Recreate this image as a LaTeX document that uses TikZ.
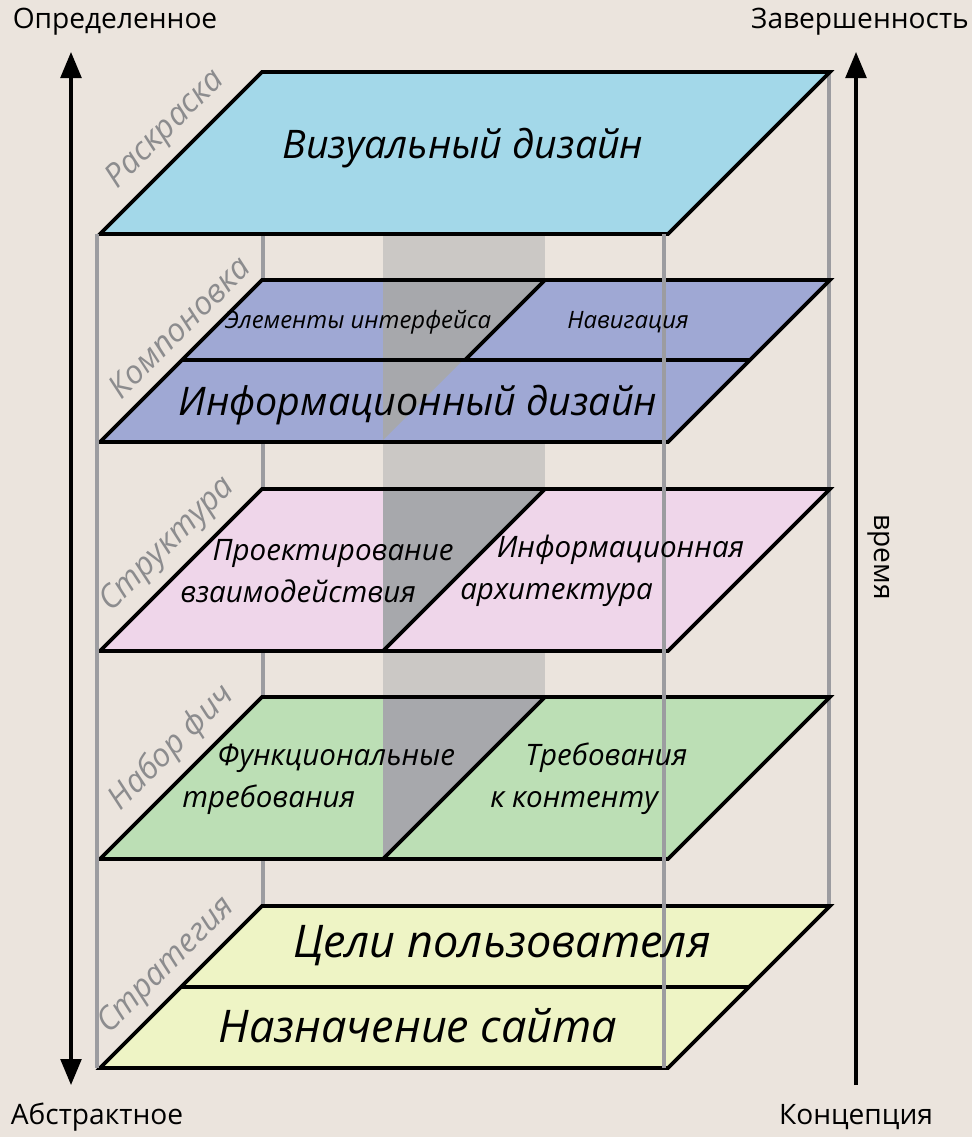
\documentclass[tikz,border=0pt]{standalone}
\usepackage{fontspec}
\setmainfont{Open Sans}
\usetikzlibrary{arrows.meta}
\definecolor{paper}{HTML}{EBE4DD}
\definecolor{skyblue}{HTML}{A3D8E9}
\definecolor{lavender}{HTML}{9FA8D4}
\definecolor{rosepink}{HTML}{EFD6EA}
\definecolor{mintgreen}{HTML}{BCDFB5}
\definecolor{palelime}{HTML}{EEF4C5}
\definecolor{shadegray}{HTML}{A7A8AC}
\definecolor{bandgray}{HTML}{CBC8C5}
\definecolor{polegray}{HTML}{9C9CA0}
\definecolor{sidegray}{HTML}{8C8C8E}

\begin{document}
\begin{tikzpicture}[
  x=0.025cm, y=-0.025cm,
  layer/.style={draw=black, line width=2.6pt, fill=#1},
  outline/.style={draw=black, line width=2.6pt},
  divider/.style={draw=black, line width=2.6pt},
  pole/.style={draw=polegray, line width=2.6pt},
  axis/.style={line width=2.2pt, black},
  sidelbl/.style={rotate=45, text=sidegray, inner sep=0,
    font=\fontsize{23}{26}\selectfont\itshape},
  endlbl/.style={inner sep=0, font=\fontsize{20}{24}\selectfont},
  txtbig/.style={inner sep=0, font=\fontsize{32}{38}\selectfont\itshape},
  txtlarge/.style={inner sep=0, font=\fontsize{28}{33}\selectfont\itshape},
  txtmid/.style={inner sep=0, align=left, font=\fontsize{21}{30}\selectfont\itshape},
  txtsmall/.style={inner sep=0, font=\fontsize{17}{20}\selectfont\itshape},
]

% Background
\fill[paper] (0,0) rectangle (972,1137);
\useasboundingbox (0,0) rectangle (972,1137);

% =============================================
% Back poles and shaded column
% =============================================
\draw[pole] (263,72) -- (263,906);
\draw[pole] (829,72) -- (829,906);
\fill[bandgray] (383,234) rectangle (545,697);

% =============================================
% Layers
% =============================================

% Visual design
\filldraw[layer=skyblue] (262,72) -- (830,72) -- (668,234) -- (100,234) -- cycle;

% Skeleton
\fill[lavender] (262,280) -- (830,280) -- (668,442) -- (100,442) -- cycle;
\fill[shadegray] (383,280) -- (543,280) -- (383,440) -- cycle;
\draw[divider] (182,360) -- (750,360);
\draw[divider] (545,280) -- (465,360);
\draw[outline] (262,280) -- (830,280) -- (668,442) -- (100,442) -- cycle;

% Structure
\fill[rosepink] (262,489) -- (830,489) -- (668,651) -- (100,651) -- cycle;
\fill[shadegray] (383,489) -- (545,489) -- (383,651) -- cycle;
\draw[divider] (545,489) -- (383,651);
\draw[outline] (262,489) -- (830,489) -- (668,651) -- (100,651) -- cycle;

% Scope
\fill[mintgreen] (262,697) -- (830,697) -- (668,859) -- (100,859) -- cycle;
\fill[shadegray] (383,697) -- (545,697) -- (383,859) -- cycle;
\draw[divider] (545,697) -- (383,859);
\draw[outline] (262,697) -- (830,697) -- (668,859) -- (100,859) -- cycle;

% Strategy
\filldraw[layer=palelime] (262,906) -- (830,906) -- (668,1068) -- (100,1068) -- cycle;
\draw[divider] (181,987) -- (749,987);

% Front poles
\draw[pole] (97,234) -- (97,1068);
\draw[pole] (664,234) -- (664,1068);

% =============================================
% Layer texts
% =============================================
\node[txtlarge] (visual) at (463,148) {Визуальный дизайн};

\node[txtsmall] (widgets) at (358,322) {Элементы интерфейса};
\node[txtsmall] (navig) at (628,322) {Навигация};
\node[txtlarge] (infodes) at (418,405) {Информационный дизайн};

\node[txtmid, anchor=west] (interact) at (180,571)
  {\hspace*{23pt}Проектирование\\взаимодействия};
\node[txtmid, anchor=west] (infoarch) at (460,571)
  {\hspace*{26pt}Информационная\\архитектура};

\node[txtmid, anchor=west] (funcreq) at (182,779)
  {\hspace*{25pt}Функциональные\\требования};
\node[txtmid, anchor=west] (contreq) at (490,779)
  {\hspace*{25pt}Требования\\к контенту};

\node[txtbig] (usergoals) at (502,946) {Цели пользователя};
\node[txtbig] (siteobj) at (418,1026) {Назначение сайта};

% =============================================
% Plane names
% =============================================
\node[sidelbl] (surface) at (166,130) {Раскраска};
\node[sidelbl] (skeleton) at (179,327) {Компоновка};
\node[sidelbl] (structure) at (168,545) {Структура};
\node[sidelbl] (scope) at (172,748) {Набор фич};
\node[sidelbl] (strategy) at (167,966) {Стратегия};

% =============================================
% Axes
% =============================================
\node[endlbl] (concrete) at (115,22) {Определенное};
\node[endlbl] (abstract) at (97,1117) {Абстрактное};
\node[endlbl] (complete) at (860,22) {Завершенность};
\node[endlbl] (concept) at (856,1117) {Концепция};
\node[endlbl, rotate=-90] (time) at (879,557) {время};

\coordinate (lefttop) at (71,52);
\coordinate (leftbot) at (71,1085);
\coordinate (righttop) at (856,52);
\coordinate (rightbot) at (856,1085);

\draw[axis, {Triangle[length=6.5mm, width=5.2mm]}-{Triangle[length=6.5mm, width=5.2mm]}]
  (leftbot) -- (lefttop);
\draw[axis, -{Triangle[length=6.5mm, width=5.2mm]}] (rightbot) -- (righttop);

\end{tikzpicture}
\end{document}
